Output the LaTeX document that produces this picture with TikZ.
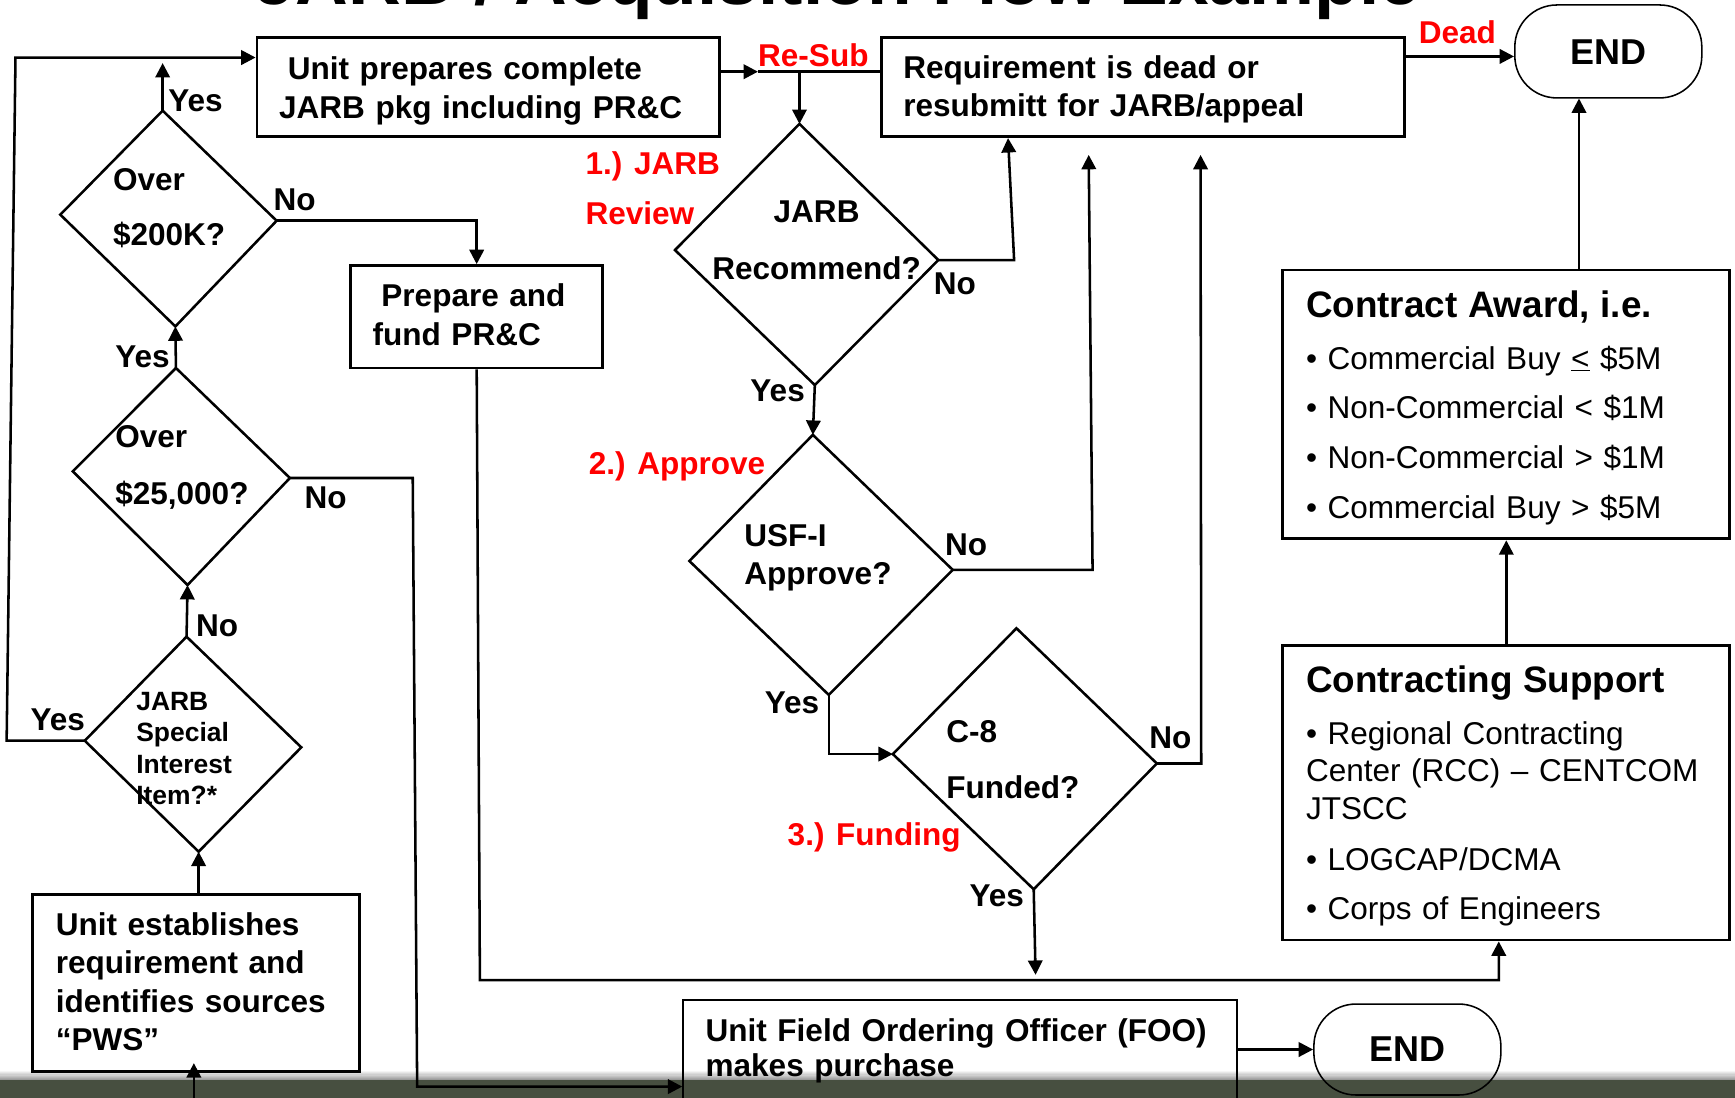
\documentclass[tikz,border=0pt]{standalone}
\usepackage{fontspec}
\setmainfont{Liberation Sans}
\usetikzlibrary{arrows.meta,calc}

\definecolor{lblred}{RGB}{255,0,0}
\definecolor{bandgreen}{RGB}{71,79,64}

% type sizes (1 unit = 1pt)
\newcommand{\jfbox}{\fontsize{28.5pt}{34.6pt}\selectfont\bfseries}
\newcommand{\jflist}{\fontsize{28.5pt}{34pt}\selectfont}
\newcommand{\jfhead}{\fontsize{33.3pt}{34pt}\selectfont\bfseries}
\newcommand{\jfsmall}{\fontsize{23.9pt}{28.6pt}\selectfont\bfseries}
\newcommand{\jfend}{\fontsize{32.5pt}{36pt}\selectfont\bfseries}
\newcommand{\jftitle}{\fontsize{66pt}{70pt}\selectfont\bfseries}

\begin{document}
\begin{tikzpicture}[x=1pt,y=-1pt,
  box/.style={draw, line width=2.6pt, rectangle, anchor=base west, inner ysep=0pt, align=left, font=\jfbox},
  endbox/.style={draw, line width=1.4pt, rectangle, rounded corners=38pt, minimum width=169pt, inner sep=0pt, anchor=base, font=\jfend},
  qtext/.style={inner sep=0pt, anchor=base west, align=left, text width=160pt},
  lab/.style={inner sep=0pt, anchor=base west, font=\fontsize{28.5pt}{34pt}\selectfont\bfseries},
  rlab/.style={lab, text=lblred},
  conn/.style={line width=2.3pt},
  arr/.style={line width=2.3pt, -{Triangle[length=13pt,width=13pt]}},
  dia/.style={line width=2.3pt, line join=miter}]

\useasboundingbox (0,0) rectangle (1568,992);
\fill[white] (0,0) rectangle (1568,992);

% footer band
\foreach \i in {0,...,7}{
  \pgfmathsetmacro\bandshade{4+\i*5}
  \fill[black!\bandshade] (-5,968+\i) rectangle (1575,969+\i);
}
\fill[bandgreen] (-5,976) rectangle (1575,1000);

% heading (runs past the top edge)
\node[font=\jftitle, anchor=base, inner sep=0pt] (title) at (757,4) {JARB / Acquisition Flow Example};

% ---------- boxes ----------
\node[box, text width=378pt, inner xsep=20pt, text height=38.3pt, text depth=51.2pt] (pkg) at (231,72.3)
  {\hspace*{0.278em}Unit prepares complete\\JARB pkg including PR\&C};
\node[box, text width=433pt, inner xsep=20pt, text height=37pt, text depth=52.5pt] (resub) at (795,71)
  {Requirement is dead or\\resubmitt for JARB/appeal};
\node[box, font=\fontsize{28.5pt}{35pt}\selectfont\bfseries, text width=188pt, inner xsep=20pt, text height=37pt, text depth=55.6pt] (prc) at (315.5,277)
  {\hspace*{0.278em}Prepare and\\fund PR\&C};
\node[box, font=\fontsize{28.5pt}{34.8pt}\selectfont\bfseries, text width=253.4pt, inner xsep=21pt, text height=36.7pt, text depth=123.5pt] (unitreq) at (28.2,845)
  {Unit establishes\\requirement and\\identifies sources\\“PWS”};
\node[box, font=\jflist, text width=362pt, inner xsep=21pt, text height=42.5pt, text depth=200.5pt] (award) at (1158,286.5)
  {{\jfhead Contract Award, i.e.}\\[13pt]
   • Commercial Buy \underline{<} \$5M\\[11pt]
   • Non-Commercial < \$1M\\[11pt]
   • Non-Commercial > \$1M\\[11pt]
   • Commercial Buy > \$5M};
\node[box, font=\jflist, text width=362pt, inner xsep=21pt, text height=42.4pt, text depth=224.1pt] (support) at (1158,625.4)
  {{\jfhead Contracting Support}\\[13pt]
   • Regional Contracting\\
   Center (RCC) – CENTCOM\\
   JTSCC\\[12pt]
   • LOGCAP/DCMA\\[11pt]
   • Corps of Engineers};
\node[box, line width=1.8pt, font=\fontsize{28.5pt}{31.6pt}\selectfont\bfseries, text width=459.7pt, inner xsep=20.2pt, text height=37.4pt, text depth=70pt] (foo) at (616.6,941.4)
  {Unit Field Ordering Officer (FOO)\\makes purchase};

\node[endbox, text height=54.2pt, text depth=29.8pt] (end1) at (1453.5,58.7) {END};
\node[endbox, text height=52.1pt, text depth=30.1pt] (end2) at (1271.9,959.5) {END};

% ---------- decisions ----------
\coordinate (d1t) at (147,100);   \coordinate (d1r) at (250,199.5);
\coordinate (d1b) at (158.5,295); \coordinate (d1l) at (54.5,194);
\coordinate (d2t) at (159,332.6); \coordinate (d2r) at (262,432);
\coordinate (d2b) at (169.5,528.7); \coordinate (d2l) at (65.8,426);
\coordinate (d3t) at (168.6,575.4); \coordinate (d3r) at (272.3,675.4);
\coordinate (d3b) at (179.5,769.7); \coordinate (d3l) at (76.6,669.4);
\coordinate (d4t) at (722.5,112); \coordinate (d4r) at (848,235);
\coordinate (d4b) at (736.4,348); \coordinate (d4l) at (610,226);
\coordinate (d5t) at (734.6,393); \coordinate (d5r) at (861,515);
\coordinate (d5b) at (749,628);   \coordinate (d5l) at (623,507);
\coordinate (d6t) at (918.6,567.8); \coordinate (d6r) at (1045.5,690);
\coordinate (d6b) at (934.2,803.7); \coordinate (d6l) at (806.9,681.5);

\foreach \d in {d1,d2,d3,d4,d5,d6}
  \draw[dia] (\d t) -- (\d r) -- (\d b) -- (\d l) -- cycle;

\node[qtext, font=\fontsize{28.5pt}{50pt}\selectfont\bfseries] (q200k) at (102,172) {Over\\\$200K?};
\node[qtext, font=\fontsize{28.5pt}{52pt}\selectfont\bfseries] (q25k) at (104,404) {Over\\\$25,000?};
\node[qtext, font=\jfsmall] (qsii) at (123,641.7) {JARB\\Special\\Interest\\Item?*};
\node[inner sep=0pt, anchor=base, align=center, text width=220pt, font=\fontsize{28.5pt}{52pt}\selectfont\bfseries] (qrec) at (738,201) {JARB\\Recommend?};
\node[qtext, font=\fontsize{28.5pt}{34.5pt}\selectfont\bfseries] (qusf) at (672.5,494) {USF-I\\Approve?};
\node[qtext, font=\fontsize{28.5pt}{51pt}\selectfont\bfseries] (qc8) at (855,671) {C-8\\Funded?};

% ---------- branch labels ----------
\node[lab] (y1) at (152,101) {Yes};
\node[lab] (n1) at (247,190) {No};
\node[lab] (y2) at (104,332) {Yes};
\node[lab] (n2) at (275,460) {No};
\node[lab] (n3) at (177,575.4) {No};
\node[lab] (y3) at (27.4,660.4) {Yes};
\node[lab] (n4) at (843.7,266.6) {No};
\node[lab] (y4) at (678,363) {Yes};
\node[lab] (n5) at (854,501.6) {No};
\node[lab] (y5) at (691,644.5) {Yes};
\node[lab] (n6) at (1038.5,676.3) {No};
\node[lab] (y6) at (876,819.4) {Yes};

\node[rlab] (rsub) at (685,60) {Re-Sub};
\node[rlab] (rdead) at (1282,39) {Dead};
\node[rlab] (rstep1a) at (529,157.5) {1.) JARB};
\node[rlab] (rstep1b) at (529,202.5) {Review};
\node[rlab] (rstep2) at (532,429) {2.) Approve};
\node[rlab] (rstep3) at (711.7,763.7) {3.) Funding};

% ---------- connectors ----------
\coordinate (loopB) at (6,669.4);
\coordinate (loopT) at (14,52);
\draw[arr] (d3l) -- (loopB) -- (loopT) -- (loopT -| pkg.west);

\coordinate (yesUp) at (147,57);
\draw[arr] (d1t) -- (yesUp);
\draw[arr] (d1r) -| (prc.north);
\draw[arr] (d2t) -- (d1b);
\draw[arr] (d3t) -- (d2b);
\draw[arr] (d3b |- unitreq.north) -- (d3b);

\coordinate (pwsIn) at (175.2,1000);
\draw[arr, shorten >=-9pt] (pwsIn) -- (pwsIn |- unitreq.south);

\coordinate (n25a) at (373,432);
\coordinate (n25b) at (377,982);
\draw[arr] (d2r) -- (n25a) -- (n25b) -- (n25b -| foo.west);

\coordinate (busL) at (433.7,885.7);
\coordinate (busR) at (1354.5,885.7);
\draw[arr] (prc.south) -- (busL) -- (busR) -- (busR |- support.south);

\coordinate (resubTip) at (685,64.8);
\coordinate (resubDrop) at (722.5,64.8);
\draw[arr] (pkg.east |- resubTip) -- (resubTip);
\draw[conn] (resubTip) -- (resub.west |- resubTip);
\draw[arr] (resubDrop) -- (d4t);

\coordinate (deadY) at (1300,51);
\draw[arr] (resub.east |- deadY) -- (end1.west |- deadY);

\coordinate (n4a) at (916.5,235);
\coordinate (n4b) at (911,120);
\draw[arr] (d4r) -- (n4a) -- (resub.south -| n4b);
\draw[arr] (d4b) -- (d5t);

\coordinate (n5a) at (987.4,515);
\coordinate (n5b) at (983.9,140);
\draw[arr] (d5r) -- (n5a) -- (n5b);
\draw[arr] (d5b) -- (d5b |- d6l) -- (d6l);

\coordinate (n6a) at (1085.6,690);
\coordinate (n6b) at (1085,140);
\draw[arr] (d6r) -- (n6a) -- (n6b);

\coordinate (c8yes) at (935.9,881);
\draw[arr] (d6b) -- (c8yes);

\draw[arr] (support.north) -- (award.south);
\coordinate (endUp) at (1427,89);
\draw[arr] (endUp |- award.north) -- (endUp);
\draw[arr] (foo.east |- end2.west) -- (end2.west);

\end{tikzpicture}
\end{document}
